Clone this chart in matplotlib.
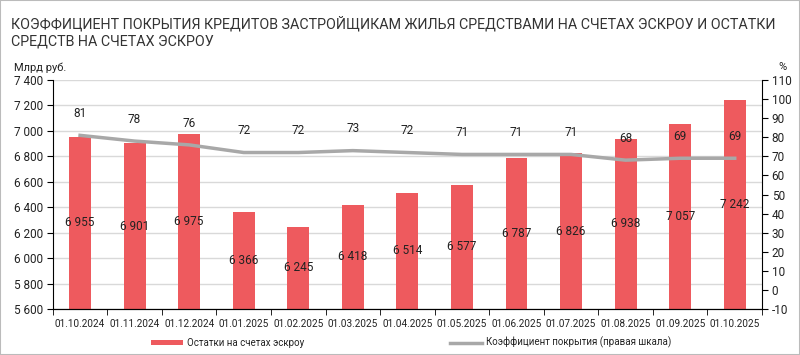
import matplotlib.pyplot as plt
from matplotlib.lines import Line2D
from matplotlib.patches import Patch, Rectangle

plt.rcParams['font.family'] = ['Roboto', 'DejaVu Sans']

dates = ['01.10.2024', '01.11.2024', '01.12.2024', '01.01.2025', '01.02.2025',
         '01.03.2025', '01.04.2025', '01.05.2025', '01.06.2025', '01.07.2025',
         '01.08.2025', '01.09.2025', '01.10.2025']
escrow = [6955, 6901, 6975, 6366, 6245, 6418, 6514, 6577, 6787, 6826, 6938, 7057, 7242]
coverage = [81, 78, 76, 72, 72, 73, 72, 71, 71, 71, 68, 69, 69]

bar_color = '#EE5A5E'
line_color = '#A8A8A8'
text_color = '#222222'


def fmt(v):
    return f'{v:,.0f}'.replace(',', ' ')


fig = plt.figure(figsize=(8, 3.55), dpi=100)
ax = fig.add_axes([0.066, 0.1296, 0.8865, 0.645])
x = list(range(len(dates)))

ax.bar(x, escrow, width=0.4, color=bar_color, zorder=2)
ax.set_ylim(5600, 7400)
ax.set_yticks(range(5600, 7401, 200))
ax.set_yticklabels([fmt(v) for v in range(5600, 7401, 200)], fontsize=8.5, color=text_color)
ax.set_xlim(-0.5, len(dates) - 0.5)
ax.set_xticks(x)
ax.set_xticklabels(dates, fontsize=7.2, color=text_color)
ax.tick_params(axis='x', length=0, pad=7)
ax.set_xticks([i + 0.5 for i in range(-1, len(dates))], minor=True)
ax.tick_params(axis='x', which='minor', length=4, direction='out')
ax.tick_params(axis='y', length=4, direction='out', pad=3)
ax.grid(axis='y', color='#D9D9D9', linewidth=1, zorder=0)
ax.set_axisbelow(True)
for s in ['top', 'right']:
    ax.spines[s].set_visible(False)

for xi, v in zip(x, escrow):
    ax.text(xi, (5600 + v) / 2, fmt(v), ha='center', va='center', fontsize=8.5, color=text_color, zorder=5)

ax2 = ax.twinx()
ax2.plot(x, coverage, color=line_color, linewidth=2.5, zorder=3)
ax2.set_ylim(-10, 110)
ax2.set_yticks(range(-10, 111, 10))
ax2.set_yticklabels([str(v) for v in range(-10, 111, 10)], fontsize=8.5, color=text_color)
ax2.tick_params(axis='y', length=4, direction='out', pad=3)
for s in ['top', 'left']:
    ax2.spines[s].set_visible(False)
for xi, v in zip(x, coverage):
    ax2.annotate(str(v), (xi, v), xytext=(0, 11), textcoords='offset points',
                 ha='center', va='bottom', fontsize=8.5, color=text_color)

fig.text(0.014, 0.955, 'КОЭФФИЦИЕНТ ПОКРЫТИЯ КРЕДИТОВ ЗАСТРОЙЩИКАМ ЖИЛЬЯ СРЕДСТВАМИ НА СЧЕТАХ ЭСКРОУ И ОСТАТКИ\nСРЕДСТВ НА СЧЕТАХ ЭСКРОУ',
         ha='left', va='top', fontsize=10.3, color='#333333', linespacing=1.3)
fig.text(0.017, 0.81, 'Млрд руб.', ha='left', va='center', fontsize=8, color=text_color)
fig.text(0.978, 0.81, '%', ha='center', va='center', fontsize=8, color=text_color)

handles = [Patch(facecolor=bar_color, label='Остатки на счетах эскроу'),
           Line2D([0], [0], color=line_color, linewidth=2.5, label='Коэффициент покрытия (правая шкала)')]
fig.legend(handles=handles, loc='center', bbox_to_anchor=(0.514, 0.035), ncol=2, frameon=False,
           fontsize=7, handlelength=3.3, handleheight=0.5, handletextpad=0.4,
           columnspacing=15, labelcolor=text_color)

fig.patches.append(Rectangle((0, 0), 1, 1, transform=fig.transFigure, fill=False,
                             edgecolor='#BBBBBB', linewidth=1.5))

fig.savefig('out.png', dpi=100)
